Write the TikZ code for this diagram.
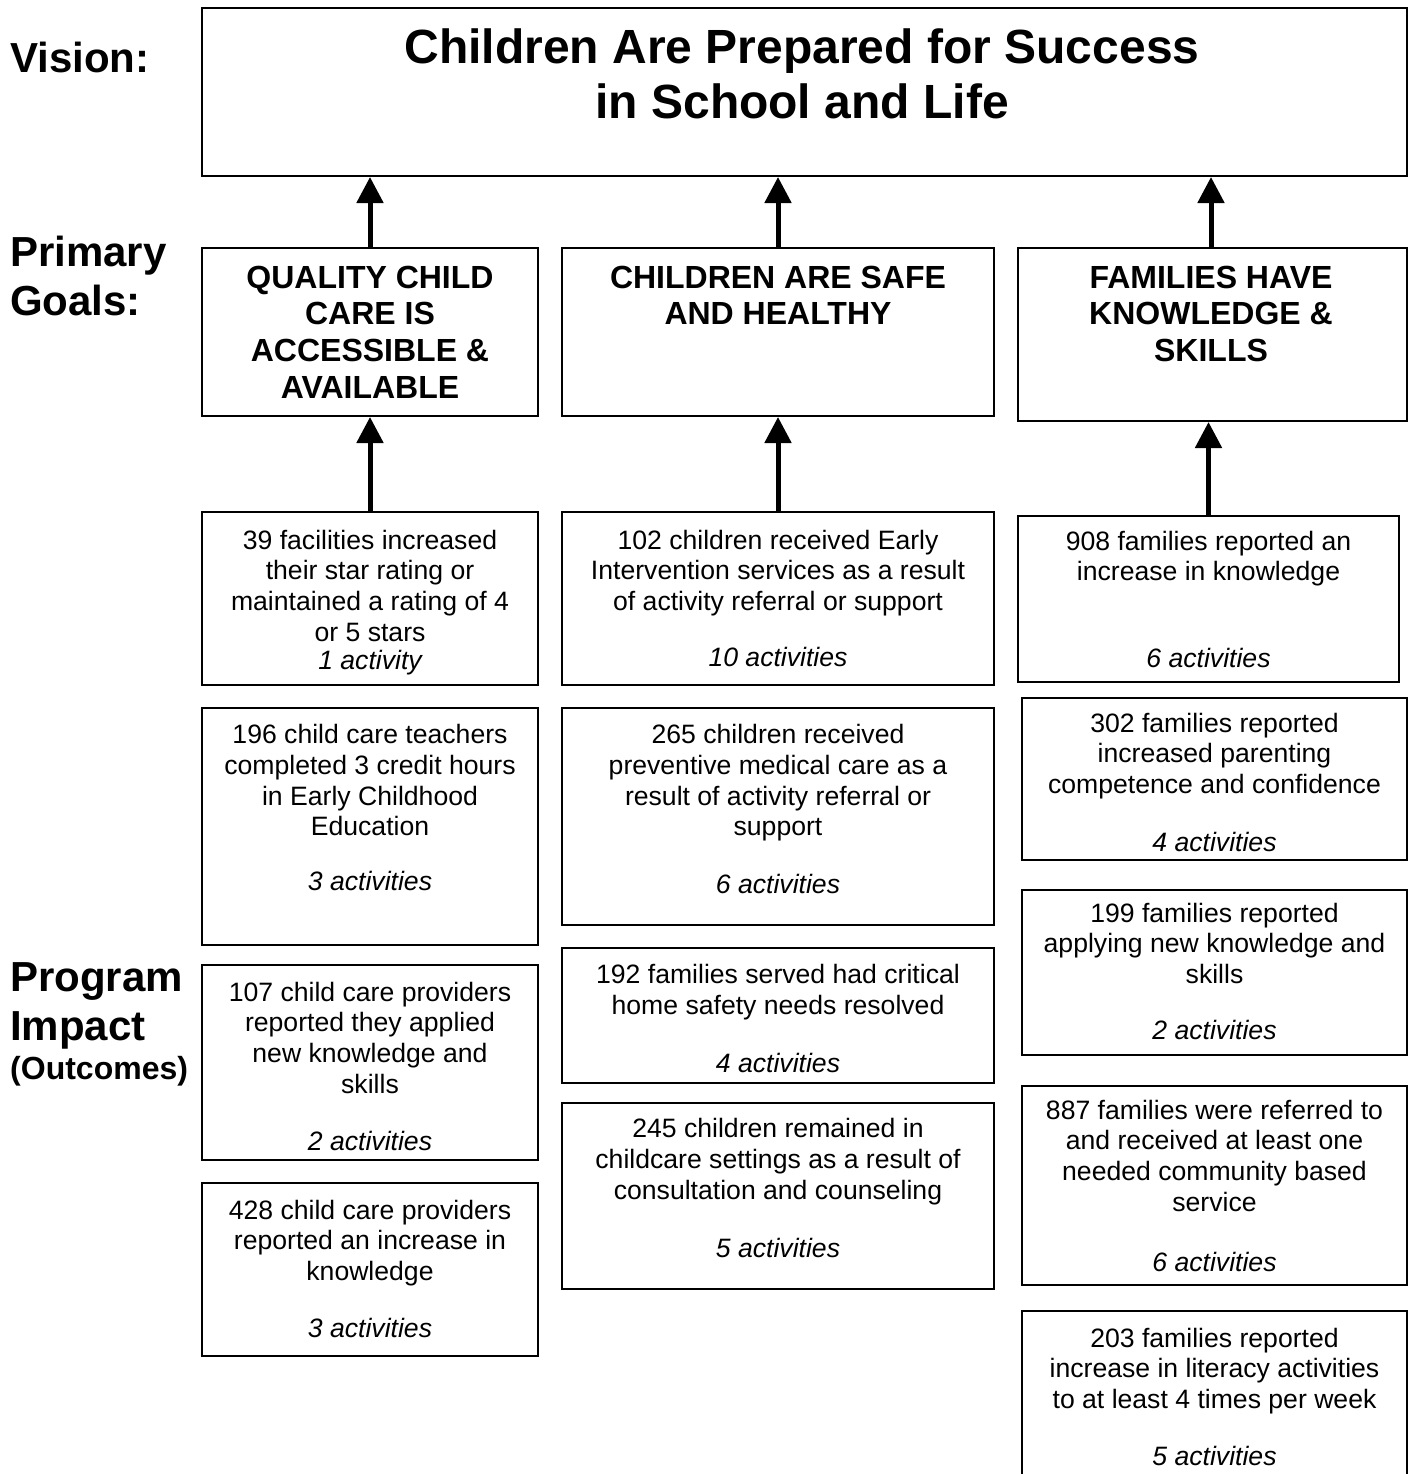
\documentclass[tikz,border=0pt]{standalone}
\usepackage{fontspec}
\setmainfont{Liberation Sans}
\usetikzlibrary{arrows.meta}
\begin{document}
\begin{tikzpicture}[x=1pt,y=-1pt,
  box/.style={draw=black, line width=2pt, inner sep=0pt, fill=none},
  body/.style={anchor=base, align=center, inner sep=0pt, font=\fontsize{26.6}{30.8}\selectfont},
  acts/.style={anchor=base, inner sep=0pt, yshift=-2pt, font=\fontsize{26.6}{30.8}\selectfont\itshape},
  goaltxt/.style={anchor=base, align=center, inner sep=0pt, font=\fontsize{32}{36.8}\selectfont\bfseries},
  lefttxt/.style={anchor=base west, align=left, inner sep=0pt, font=\fontsize{42}{48.5}\selectfont\bfseries},
  arr/.style={line width=5pt, -{Triangle[length=26pt,width=26pt]}}]
\useasboundingbox (0,0) rectangle (1409,1474);
% vision
\node[box, minimum width=1205pt, minimum height=168pt] (vision) at (804.5,92) {};
\node[anchor=base, align=center, inner sep=0pt, font=\fontsize{48}{55}\selectfont\bfseries] (visiontxt) at (802,118.5) {Children Are Prepared for Success\\in School and Life};
% left labels
\node[lefttxt] (lv) at (10,72.5) {Vision:};
\node[lefttxt] (lg) at (10,315) {Primary\\Goals:};
\node[lefttxt] (lp) at (10,1040) {Program\\Impact};
\node[anchor=base west, inner sep=0pt, font=\fontsize{32}{36}\selectfont\bfseries] (lo) at (10,1079) {(Outcomes)};
% goals
\node[box, minimum width=336pt, minimum height=168pt] (g1) at (370,332) {};
\node[box, minimum width=432pt, minimum height=168pt] (g2) at (778,332) {};
\node[box, minimum width=389pt, minimum height=173pt] (g3) at (1212.5,334.5) {};
\node[goaltxt] (g1t) at (370,398.4) {QUALITY CHILD\\CARE IS\\ACCESSIBLE \&\\AVAILABLE};
\node[goaltxt] (g2t) at (778,324.8) {CHILDREN ARE SAFE\\AND HEALTHY};
\node[goaltxt] (g3t) at (1211,361.6) {FAMILIES HAVE\\KNOWLEDGE \&\\SKILLS};
% column 1
\node[box, minimum width=336pt, minimum height=173pt] (a1) at (370,598.5) {};
\node[box, minimum width=336pt, minimum height=237pt] (a2) at (370,826.5) {};
\node[box, minimum width=336pt, minimum height=195pt] (a3) at (370,1062.5) {};
\node[box, minimum width=336pt, minimum height=173pt] (a4) at (370,1269.5) {};
\node[body] (a1t) at (370,641.4) {39 facilities increased\\their star rating or\\maintained a rating of 4\\or 5 stars};
\node[acts] (a1a) at (370,667) {1 activity};
\node[body] (a2t) at (370,835.9) {196 child care teachers\\completed 3 credit hours\\in Early Childhood\\Education};
\node[acts] (a2a) at (370,888) {3 activities};
\node[body] (a3t) at (370,1093.4) {107 child care providers\\reported they applied\\new knowledge and\\skills};
\node[acts] (a3a) at (370,1148) {2 activities};
\node[body] (a4t) at (370,1280.6) {428 child care providers\\reported an increase in\\knowledge};
\node[acts] (a4a) at (370,1335) {3 activities};
% column 2
\node[box, minimum width=432pt, minimum height=173pt] (b1) at (778,598.5) {};
\node[box, minimum width=432pt, minimum height=217pt] (b2) at (778,816.5) {};
\node[box, minimum width=432pt, minimum height=135pt] (b3) at (778,1015.5) {};
\node[box, minimum width=432pt, minimum height=186pt] (b4) at (778,1196) {};
\node[body] (b1t) at (778,610.6) {102 children received Early\\Intervention services as a result\\of activity referral or support};
\node[acts] (b1a) at (778,664) {10 activities};
\node[body] (b2t) at (778,835.9) {265 children received\\preventive medical care as a\\result of activity referral or\\support};
\node[acts] (b2a) at (778,891) {6 activities};
\node[body] (b3t) at (778,1014.3) {192 families served had critical\\home safety needs resolved};
\node[acts] (b3a) at (778,1070) {4 activities};
\node[body] (b4t) at (778,1199.1) {245 children remained in\\childcare settings as a result of\\consultation and counseling};
\node[acts] (b4a) at (778,1255) {5 activities};
% column 3
\node[box, minimum width=381pt, minimum height=166pt] (c1) at (1208.5,599) {};
\node[box, minimum width=385pt, minimum height=162pt] (c2) at (1214.5,779) {};
\node[box, minimum width=385pt, minimum height=165pt] (c3) at (1214.5,972.5) {};
\node[box, minimum width=385pt, minimum height=199pt] (c4) at (1214.5,1185.5) {};
\node[box, minimum width=385pt, minimum height=190pt] (c5) at (1214.5,1406) {};
\node[body] (c1t) at (1208.5,580.8) {908 families reported an\\increase in knowledge};
\node[acts] (c1a) at (1208.5,665) {6 activities};
\node[body] (c2t) at (1214.5,793.6) {302 families reported\\increased parenting\\competence and confidence};
\node[acts] (c2a) at (1214.5,849) {4 activities};
\node[body] (c3t) at (1214.5,983.6) {199 families reported\\applying new knowledge and\\skills};
\node[acts] (c3a) at (1214.5,1037) {2 activities};
\node[body] (c4t) at (1214.5,1211.4) {887 families were referred to\\and received at least one\\needed community based\\service};
\node[acts] (c4a) at (1214.5,1269) {6 activities};
\node[body] (c5t) at (1214.5,1408.6) {203 families reported\\increase in literacy activities\\to at least 4 times per week};
\node[acts] (c5a) at (1214.5,1463.5) {5 activities};
% arrows
\draw[arr] (g1.north) -- (g1.north |- vision.south);
\draw[arr] (g2.north) -- (g2.north |- vision.south);
\draw[arr] ([xshift=-1.5pt]g3.north) -- ([xshift=-1.5pt]g3.north |- vision.south);
\draw[arr] (a1.north) -- (a1.north |- g1.south);
\draw[arr] (b1.north) -- (b1.north |- g2.south);
\draw[arr] (c1.north) -- (c1.north |- g3.south);
\end{tikzpicture}
\end{document}
